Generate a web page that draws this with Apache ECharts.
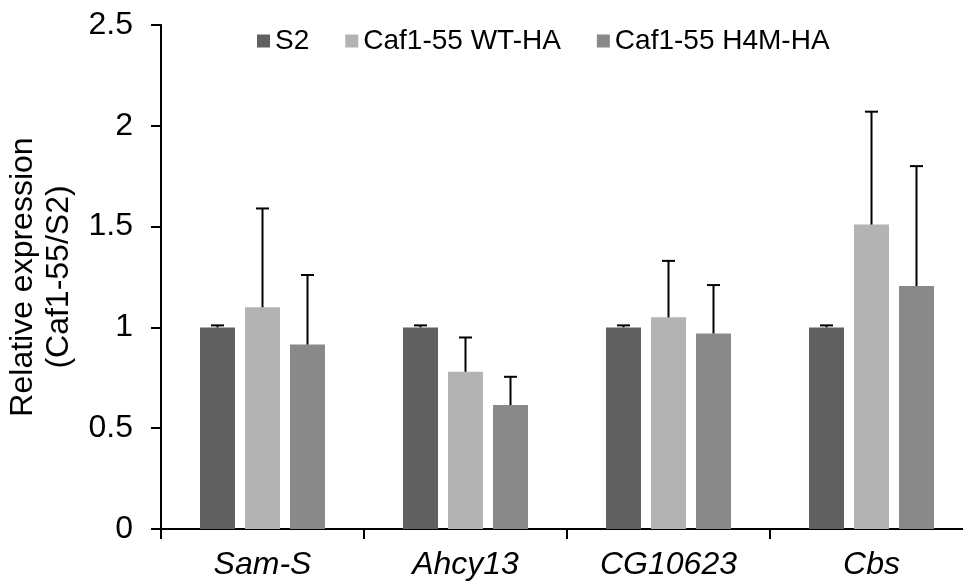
<!DOCTYPE html>
<html><head><meta charset="utf-8">
<script src="https://cdn.jsdelivr.net/npm/echarts@6/dist/echarts.min.js"></script>
<style>html,body{margin:0;padding:0;background:#fff}#c{width:963px;height:586px}</style>
</head><body><div id="c"></div>
<script>
const categories = ['Sam-S', 'Ahcy13', 'CG10623', 'Cbs'];
const seriesNames = ['S2', 'Caf1-55 WT-HA', 'Caf1-55 H4M-HA'];
const s2Values = [1.0, 1.0, 1.0, 1.0];
const s2Errors = [0.01, 0.01, 0.01, 0.01];
const wtValues = [1.10, 0.78, 1.05, 1.51];
const wtErrors = [0.49, 0.17, 0.28, 0.56];
const h4mValues = [0.915, 0.615, 0.97, 1.205];
const h4mErrors = [0.345, 0.14, 0.24, 0.595];
const yTicks = [0, 0.5, 1, 1.5, 2, 2.5];

const colors = ['#606060', '#b3b3b3', '#898989'];
const values = [s2Values, wtValues, h4mValues];
const errors = [s2Errors, wtErrors, h4mErrors];
const barWidth = 35, barGapPx = 10;
const FONT = 'Liberation Sans, Arial, sans-serif';

const chart = echarts.init(document.getElementById('c'));
const series = [];
values.forEach((vals, i) => {
  series.push({
    name: seriesNames[i], type: 'bar', data: vals, barWidth: barWidth,
    barGap: (barGapPx / barWidth * 100) + '%',
    itemStyle: { color: colors[i] }, silent: true
  });
});
values.forEach((vals, i) => {
  const offset = (i - 1) * (barWidth + barGapPx);
  series.push({
    type: 'custom', silent: true, z: 5,
    data: vals.map((v, k) => [k, v, v + errors[i][k]]),
    renderItem: function (params, api) {
      const base = api.coord([api.value(0), api.value(1)]);
      const top = api.coord([api.value(0), api.value(2)]);
      const x = base[0] + offset;
      const cap = 6.5;
      return {
        type: 'group', children: [
          { type: 'line', shape: { x1: x, y1: base[1], x2: x, y2: top[1] }, style: { stroke: '#000', lineWidth: 2 } },
          { type: 'line', shape: { x1: x - cap, y1: top[1], x2: x + cap, y2: top[1] }, style: { stroke: '#000', lineWidth: 2 } }
        ]
      };
    }
  });
});

chart.setOption({
  animation: false,
  textStyle: { fontFamily: FONT },
  legend: {
    data: seriesNames, top: 22, left: 252, itemWidth: 13, itemHeight: 13, itemGap: 36,
    icon: 'rect',
    textStyle: { fontSize: 28, color: '#000', fontFamily: FONT }
  },
  grid: { left: 161, width: 812, top: 25, bottom: 57, containLabel: false, outerBoundsMode: 'none' },
  xAxis: {
    type: 'category', data: categories,
    axisLine: { lineStyle: { color: '#000', width: 2 } },
    axisTick: { show: true, length: 10, lineStyle: { color: '#000', width: 2 } },
    axisLabel: { fontSize: 32, fontStyle: 'italic', color: '#000', margin: 20, fontFamily: FONT }
  },
  yAxis: {
    type: 'value', min: 0, max: 2.5, interval: 0.5,
    name: 'Relative expression\n(Caf1-55/S2)', nameLocation: 'middle', nameGap: 67,
    nameTextStyle: { fontSize: 32, color: '#000', lineHeight: 36, fontFamily: FONT },
    splitLine: { show: false },
    axisLine: { show: true, lineStyle: { color: '#000', width: 2 } },
    axisTick: { show: true, length: 10, lineStyle: { color: '#000', width: 2 } },
    axisLabel: { fontSize: 32, color: '#000', margin: 28, fontFamily: FONT,
      formatter: v => yTicks.includes(v) ? String(v) : '' }
  },
  series: series
});
</script></body></html>
